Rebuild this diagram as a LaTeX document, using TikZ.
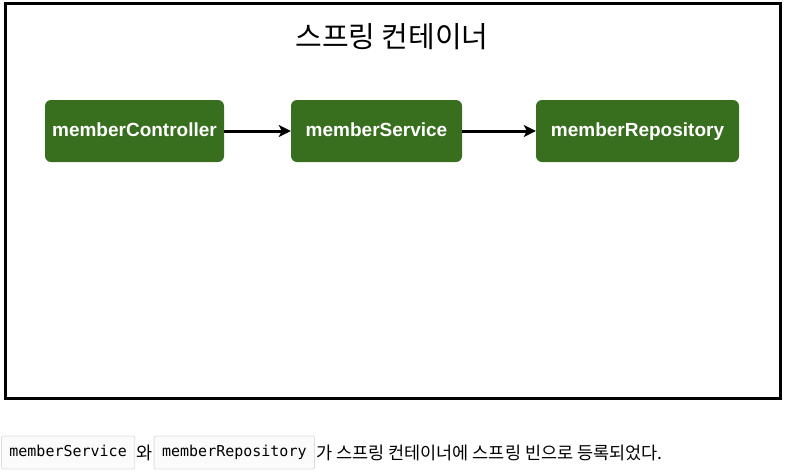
\documentclass[tikz,border=0pt]{standalone}
\usepackage{fontspec}
\setmainfont{Liberation Sans}
\newfontfamily\krfont{Noto Sans CJK KR}
\newfontfamily\codefont{DejaVu Sans Mono}
\usetikzlibrary{arrows.meta, positioning}
\definecolor{beangreen}{RGB}{56, 111, 31}
\definecolor{codegray}{RGB}{222, 222, 222}

\begin{document}
\begin{tikzpicture}[x=1pt, y=-1pt, every node/.style={inner sep=0pt},
  bean/.style={draw=none, rounded corners=6pt, fill=beangreen, text=white,
    font=\bfseries\fontsize{19}{22}\selectfont, minimum height=62pt,
    text height=14pt, text depth=4pt},
  codebox/.style={draw=codegray, rounded corners=2pt, fill=gray!3, line width=0.8pt,
    font=\codefont\fontsize{15}{18}\selectfont, minimum height=33pt, inner xsep=8pt,
    text height=11pt, text depth=3pt},
  krtext/.style={font=\krfont\fontsize{17.5}{21}\selectfont},
  beanarrow/.style={-{Stealth[length=12pt, width=12pt, inset=3pt]}, line width=3pt}]
\useasboundingbox (0,0) rectangle (787,472);
% container frame
\draw[line width=3pt] (5.5,3) rectangle (780.5,398.5);
\node[krtext, font=\krfont\fontsize{29}{34}\selectfont] (title) at (392,37) {스프링 컨테이너};
% beans
\node[bean, minimum width=179pt] (ctrl) at (134.5,131) {memberController};
\node[bean, minimum width=171pt] (svc) at (376.5,131) {memberService};
\node[bean, minimum width=203pt] (repo) at (637.5,131) {memberRepository};
\draw[beanarrow] (ctrl) -- (svc);
\draw[beanarrow] (svc) -- (repo);
% caption
\node[codebox, anchor=west] (c1) at (1,452.5) {memberService};
\node[krtext, right=1pt of c1] (wa) {와};
\node[codebox, right=1pt of wa] (c2) {memberRepository};
\node[krtext, right=1pt of c2] (rest) {가 스프링 컨테이너에 스프링 빈으로 등록되었다.};
\end{tikzpicture}
\end{document}
